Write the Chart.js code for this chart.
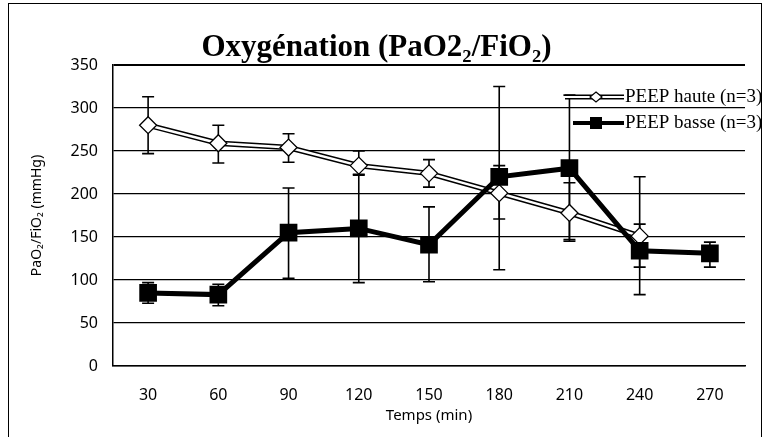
<!DOCTYPE html>
<html>
<head>
<meta charset="utf-8">
<script src="https://cdn.jsdelivr.net/npm/chart.js@4.4.0/dist/chart.umd.min.js"></script>
<style>
    html, body { margin: 0; padding: 0; background: #fff; }
</style>
</head>
<body>
<canvas id="oxyChart" width="765" height="437"></canvas>
<script>
    const timeLabels = ['30', '60', '90', '120', '150', '180', '210', '240', '270'];

    // PEEP haute (n=3)
    const hauteMean  = [280, 259, 254, 233, 224, 201, 178, 151, null];
    const hauteUpper = [313, 280, 270, 250, 240, 233, 213, 165, null];
    const hauteLower = [247, 236, 237, 223, 208, 171, 147, 115, null];

    // PEEP basse (n=3)
    const basseMean  = [85, 83, 155, 160, 141, 220, 230, 134, 131];
    const basseUpper = [97, 95, 207, 222, 185, 325, 315, 220, 144];
    const basseLower = [73, 70, 102, 97, 98, 112, 145, 83, 115];

    const legendLabels = ['PEEP haute (n=3)', 'PEEP basse (n=3)'];

    const serif = '"Liberation Serif", "Times New Roman", serif';
    const sans = '"Noto Sans", "DejaVu Sans", sans-serif';

    /** barres d'erreur, dessinées sous les marqueurs **/
    const errorBarPlugin = {
        id: 'errorBars',
        beforeDatasetsDraw(chart) {
            const {ctx, scales: {x, y}} = chart;
            ctx.save();
            ctx.strokeStyle = '#000';
            ctx.lineWidth = 1.6;
            [[hauteUpper, hauteLower], [basseUpper, basseLower]].forEach(([up, lo]) => {
                up.forEach((u, i) => {
                    if (u == null) return;
                    const px = x.getPixelForValue(i);
                    const top = y.getPixelForValue(u);
                    const bot = y.getPixelForValue(lo[i]);
                    ctx.beginPath();
                    ctx.moveTo(px, top); ctx.lineTo(px, bot);
                    ctx.moveTo(px - 6, top); ctx.lineTo(px + 6, top);
                    ctx.moveTo(px - 6, bot); ctx.lineTo(px + 6, bot);
                    ctx.stroke();
                });
            });
            ctx.restore();
        }
    };

    /** légende dans la zone du graphique + cadre **/
    const legendFramePlugin = {
        id: 'legendFrame',
        afterDraw(chart) {
            const {ctx} = chart;
            ctx.save();
            const x0 = 565, x1 = 624, xm = 596;
            const yH = 97, yB = 123;

            // haute : double trait + losange
            ctx.lineCap = 'butt';
            ctx.strokeStyle = '#000'; ctx.lineWidth = 5;
            ctx.beginPath(); ctx.moveTo(x0, yH); ctx.lineTo(x1, yH); ctx.stroke();
            ctx.strokeStyle = '#fff'; ctx.lineWidth = 2;
            ctx.beginPath(); ctx.moveTo(x0, yH); ctx.lineTo(x1, yH); ctx.stroke();
            ctx.fillStyle = '#fff'; ctx.strokeStyle = '#000'; ctx.lineWidth = 1.2;
            ctx.beginPath();
            ctx.moveTo(xm, yH - 5); ctx.lineTo(xm + 6, yH); ctx.lineTo(xm, yH + 5); ctx.lineTo(xm - 6, yH);
            ctx.closePath(); ctx.fill(); ctx.stroke();

            // basse : trait épais + carré
            ctx.strokeStyle = '#000'; ctx.lineWidth = 4;
            ctx.beginPath(); ctx.moveTo(x0 + 8, yB); ctx.lineTo(x1, yB); ctx.stroke();
            ctx.fillStyle = '#000';
            ctx.fillRect(xm - 6, yB - 6, 12, 12);

            ctx.fillStyle = '#000';
            ctx.font = '19px ' + serif;
            ctx.textBaseline = 'middle';
            ctx.textAlign = 'left';
            ctx.fillText(legendLabels[0], 625, yH);
            ctx.fillText(legendLabels[1], 625, yB);

            ctx.strokeStyle = '#000'; ctx.lineWidth = 1;
            ctx.strokeRect(8.5, 3.5, 753, 450);
            ctx.restore();
        }
    };

    new Chart(document.getElementById('oxyChart'), {
        type: 'line',
        data: {
            labels: timeLabels,
            datasets: [
                {
                    label: legendLabels[1],
                    data: basseMean,
                    borderColor: '#000',
                    borderWidth: 5,
                    pointStyle: 'rect',
                    pointRadius: 12.5,
                    pointBackgroundColor: '#000',
                    pointBorderColor: '#000',
                    pointBorderWidth: 0,
                    tension: 0
                },
                {
                    label: legendLabels[0],
                    data: hauteMean,
                    borderColor: '#fff',
                    borderWidth: 2.5,
                    pointStyle: 'rectRot',
                    pointRadius: 8.5,
                    pointBackgroundColor: '#fff',
                    pointBorderColor: '#000',
                    pointBorderWidth: 1.3,
                    tension: 0
                },
                {
                    label: 'contour',
                    data: hauteMean,
                    borderColor: '#000',
                    borderWidth: 5.5,
                    pointRadius: 0,
                    tension: 0
                }
            ]
        },
        options: {
            responsive: false,
            animation: false,
            layout: {padding: {left: 8, right: 20, top: 0, bottom: 0}},
            plugins: {
                legend: {display: false},
                tooltip: {enabled: false},
                title: {
                    display: true,
                    text: 'Oxygénation (PaO2₂/FiO₂)',
                    color: '#000',
                    font: {family: serif, size: 31, weight: 'bold', lineHeight: 1},
                    padding: {top: 32, bottom: 2}
                }
            },
            scales: {
                x: {
                    offset: true,
                    grid: {display: false},
                    border: {display: true, color: '#000', width: 1.5},
                    ticks: {color: '#000', font: {family: sans, size: 16}, padding: 12},
                    title: {
                        display: true,
                        text: 'Temps (min)',
                        color: '#000',
                        font: {family: sans, size: 15},
                        padding: {top: 4, bottom: 12}
                    },
                    afterFit: (scale) => { scale.height = 71; }
                },
                y: {
                    min: 0,
                    max: 350,
                    grid: {
                        color: '#000',
                        lineWidth: (c) => (c.tick && c.tick.value === 350 ? 2 : 1.2),
                        drawTicks: false
                    },
                    border: {display: true, color: '#000', width: 1.5},
                    ticks: {stepSize: 50, color: '#000', font: {family: sans, size: 16}, padding: 15},
                    title: {
                        display: true,
                        text: 'PaO₂/FiO₂ (mmHg)',
                        color: '#000',
                        font: {family: sans, size: 14},
                        padding: {top: 21, bottom: 0}
                    },
                    afterFit: (scale) => { scale.width = 105; }
                }
            }
        },
        plugins: [errorBarPlugin, legendFramePlugin]
    });
</script>
</body>
</html>
